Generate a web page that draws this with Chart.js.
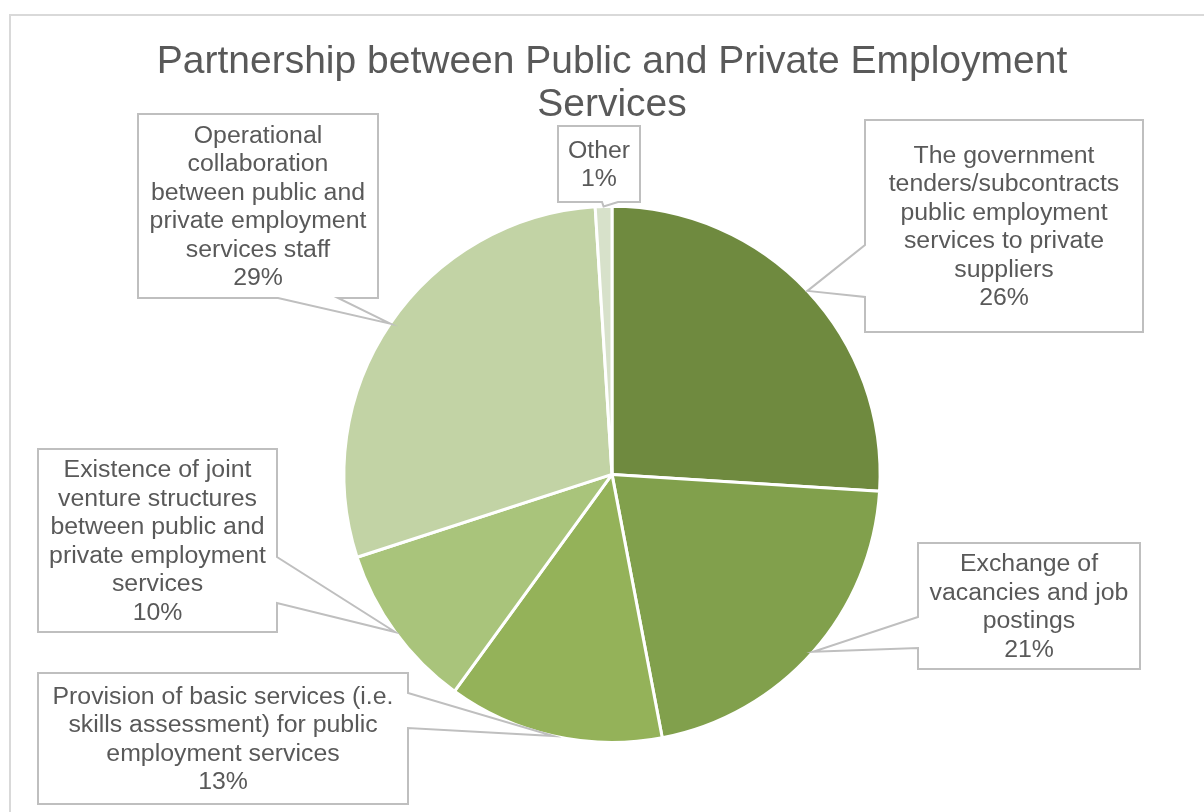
<!DOCTYPE html>
<html>
<head>
<meta charset="utf-8">
<title>Partnership between Public and Private Employment Services</title>
<script src="https://cdn.jsdelivr.net/npm/chart.js@4.4.1/dist/chart.umd.min.js"></script>
<style>
  html, body { margin: 0; padding: 0; background: #fff; }
</style>
</head>
<body>
<canvas id="partnership" width="1204" height="812"></canvas>
<script>
const categories = [
  "The government tenders/subcontracts public employment services to private suppliers",
  "Exchange of vacancies and job postings",
  "Provision of basic services (i.e. skills assessment) for public employment services",
  "Existence of joint venture structures between public and private employment services",
  "Operational collaboration between public and private employment services staff",
  "Other",
];
const shares = [26, 21, 13, 10, 29, 1];

// how each category name wraps inside its callout
const labelLines = [
  ["The government", "tenders/subcontracts", "public employment", "services to private", "suppliers"],
  ["Exchange of", "vacancies and job", "postings"],
  ["Provision of basic services (i.e.", "skills assessment) for public", "employment services"],
  ["Existence of joint", "venture structures", "between public and", "private employment", "services"],
  ["Operational", "collaboration", "between public and", "private employment", "services staff"],
  ["Other"],
];

const sliceColors = ["#6F8A3F", "#81A04C", "#94B259", "#A9C47B", "#C2D3A5", "#D7E1CA"];

// callout boxes: [left, top, right, bottom], which side the pointer leaves from, and its base span
const calloutBoxes = [
  { box: [865, 120, 1143, 332], side: "left", base: [245, 297] },
  { box: [918, 543, 1140, 669], side: "left", base: [617, 648] },
  { box: [38, 673, 408, 804], side: "right", base: [693, 728] },
  { box: [38, 449, 277, 632], side: "right", base: [557, 603] },
  { box: [138, 114, 378, 298], side: "bottom", base: [278, 338] },
  { box: [558, 126, 640, 202], side: "bottom", base: [602, 618] },
];

const textColor = "#595959";
const fontFamily = "'Liberation Sans', Arial, sans-serif";

const framePlugin = {
  id: "frame",
  beforeDraw(chart) {
    const ctx = chart.ctx;
    ctx.save();
    ctx.fillStyle = "#fff";
    ctx.fillRect(0, 0, chart.width, chart.height);
    ctx.strokeStyle = "#D9D9D9";
    ctx.lineWidth = 2;
    ctx.beginPath();
    ctx.moveTo(10, chart.height + 5);
    ctx.lineTo(10, 15);
    ctx.lineTo(chart.width + 5, 15);
    ctx.stroke();
    ctx.restore();
  },
};

const calloutPlugin = {
  id: "callouts",
  afterDatasetsDraw(chart) {
    const ctx = chart.ctx;
    const arcs = chart.getDatasetMeta(0).data;
    arcs.forEach((arc, i) => {
      const { x, y, startAngle, endAngle, outerRadius } = arc.getProps(
        ["x", "y", "startAngle", "endAngle", "outerRadius"], true);
      const mid = (startAngle + endAngle) / 2;
      const tx = x + Math.cos(mid) * outerRadius;
      const ty = y + Math.sin(mid) * outerRadius;
      const c = calloutBoxes[i];
      const [x0, y0, x1, y1] = c.box;
      const [b0, b1] = c.base;

      ctx.save();
      ctx.beginPath();
      ctx.moveTo(x0, y0);
      ctx.lineTo(x1, y0);
      if (c.side === "right") {
        ctx.lineTo(x1, b0);
        ctx.lineTo(tx, ty);
        ctx.lineTo(x1, b1);
      }
      ctx.lineTo(x1, y1);
      if (c.side === "bottom") {
        ctx.lineTo(b1, y1);
        ctx.lineTo(tx, ty);
        ctx.lineTo(b0, y1);
      }
      ctx.lineTo(x0, y1);
      if (c.side === "left") {
        ctx.lineTo(x0, b1);
        ctx.lineTo(tx, ty);
        ctx.lineTo(x0, b0);
      }
      ctx.closePath();
      ctx.fillStyle = "#fff";
      ctx.fill();
      ctx.strokeStyle = "#BFBFBF";
      ctx.lineWidth = 2;
      ctx.lineJoin = "miter";
      ctx.stroke();

      const lines = labelLines[i].concat([shares[i] + "%"]);
      const lh = 28.5;
      const cx = (x0 + x1) / 2;
      const firstY = (y0 + y1) / 2 - (lines.length - 1) * lh / 2 + 1.5;
      ctx.fillStyle = textColor;
      ctx.font = "23px " + fontFamily;
      ctx.textAlign = "center";
      ctx.textBaseline = "middle";
      lines.forEach((line, k) => {
        ctx.save();
        ctx.translate(cx, firstY + k * lh);
        ctx.scale(1.08, 1);
        ctx.fillText(line, 0, 0);
        ctx.restore();
      });
      ctx.restore();
    });
  },
};

new Chart(document.getElementById("partnership"), {
  type: "pie",
  data: {
    labels: categories,
    datasets: [
      {
        data: shares,
        backgroundColor: sliceColors,
        borderColor: "#fff",
        borderWidth: 3,
      },
    ],
  },
  options: {
    responsive: false,
    animation: false,
    layout: {
      padding: { left: 20, right: 0, top: 0, bottom: 68 },
    },
    plugins: {
      legend: { display: false },
      tooltip: { enabled: false },
      title: {
        display: true,
        text: ["Partnership between Public and Private Employment", "Services"],
        color: textColor,
        font: { family: fontFamily, size: 39, weight: "normal", lineHeight: 1.1 },
        padding: { top: 41, bottom: 78 },
      },
    },
  },
  plugins: [framePlugin, calloutPlugin],
});
</script>
</body>
</html>
